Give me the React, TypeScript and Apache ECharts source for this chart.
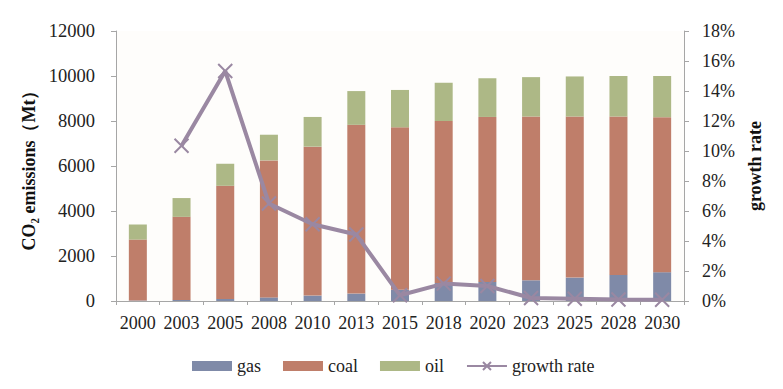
import React, { useEffect, useRef } from "react";
import * as echarts from "echarts";

const years = ["2000", "2003", "2005", "2008", "2010", "2013", "2015", "2018", "2020", "2023", "2025", "2028", "2030"];
const gas = [20, 50, 90, 160, 240, 330, 500, 800, 850, 920, 1040, 1160, 1280];
const coal = [2710, 3690, 5030, 6090, 6620, 7500, 7220, 7200, 7330, 7280, 7160, 7040, 6890];
const oil = [670, 835, 980, 1140, 1320, 1500, 1660, 1700, 1720, 1750, 1780, 1800, 1830];
const growth = [null, 10.35, 15.33, 6.5, 5.12, 4.43, 0.38, 1.16, 1.0, 0.2, 0.15, 0.1, 0.08];

const FONT = "Liberation Serif";

export default function App() {
  const ref = useRef<HTMLDivElement>(null);
  useEffect(() => {
    const chart = echarts.init(ref.current!, null, { renderer: "svg" });
    const barCommon = {
      type: "bar",
      stack: "total",
      barWidth: 18,
      yAxisIndex: 0,
    };
    chart.setOption({
      animation: false,
      textStyle: { fontFamily: FONT },
      grid: {
        left: 108,
        right: 91,
        top: 23,
        bottom: 80,
        show: true,
        backgroundColor: "#fefdfb",
        borderWidth: 0,
      },
      legend: {
        top: 344,
        left: 179,
        itemWidth: 40,
        itemHeight: 10,
        itemGap: 22,
        itemTextGap: 5,
        textStyle: { fontFamily: FONT, fontSize: 18, color: "#222" },
        data: [
          { name: "gas", icon: "rect" },
          { name: "coal", icon: "rect" },
          { name: "oil", icon: "rect" },
          { name: "growth rate" },
        ],
      },
      xAxis: {
        type: "category",
        data: years,
        axisLine: { lineStyle: { color: "#a6a6a6", width: 1 } },
        axisTick: { show: true, length: 4, lineStyle: { color: "#a6a6a6" } },
        axisLabel: { fontFamily: FONT, fontSize: 18, color: "#222", margin: 13, interval: 0 },
      },
      yAxis: [
        {
          type: "value",
          min: 0,
          max: 12000,
          interval: 2000,
          name: "CO₂ emissions（Mt）",
          nameLocation: "middle",
          nameGap: 76,
          nameRotate: 90,
          nameTextStyle: { fontFamily: FONT, fontSize: 18, fontWeight: "bold", color: "#111" },
          axisLine: { show: true, lineStyle: { color: "#a6a6a6" } },
          axisTick: { show: true, length: 5, lineStyle: { color: "#a6a6a6" } },
          splitLine: { show: false },
          axisLabel: {
            fontFamily: FONT,
            fontSize: 18.5,
            color: "#222",
            margin: 21,
            formatter: (v: number) => String(v),
          },
        },
        {
          type: "value",
          min: 0,
          max: 18,
          interval: 2,
          position: "right",
          name: "growth rate",
          nameLocation: "middle",
          nameGap: 61,
          nameRotate: 90,
          nameTextStyle: { fontFamily: FONT, fontSize: 18, fontWeight: "bold", color: "#111" },
          axisLine: { show: true, lineStyle: { color: "#a6a6a6" } },
          axisTick: { show: true, length: 5, inside: false, lineStyle: { color: "#a6a6a6" } },
          splitLine: { show: false },
          axisLabel: { fontFamily: FONT, fontSize: 18, color: "#222", margin: 18, formatter: "{value}%" },
        },
      ],
      series: [
        { ...barCommon, name: "gas", data: gas, itemStyle: { color: "#7f8aa8" } },
        { ...barCommon, name: "coal", data: coal, itemStyle: { color: "#bf7e6a" } },
        { ...barCommon, name: "oil", data: oil, itemStyle: { color: "#adb886" } },
        {
          type: "line",
          name: "growth rate",
          yAxisIndex: 1,
          data: growth,
          symbol: "path://M0,0 L10,10 M10,0 L0,10",
          symbolSize: 14,
          lineStyle: { color: "#9a88a2", width: 4 },
          itemStyle: { color: "#9a88a2", borderColor: "#9a88a2", borderWidth: 2 },
          z: 5,
        },
      ],
    });
    return () => chart.dispose();
  }, []);
  return <div ref={ref} style={{ width: 767, height: 373 }} />;
}
